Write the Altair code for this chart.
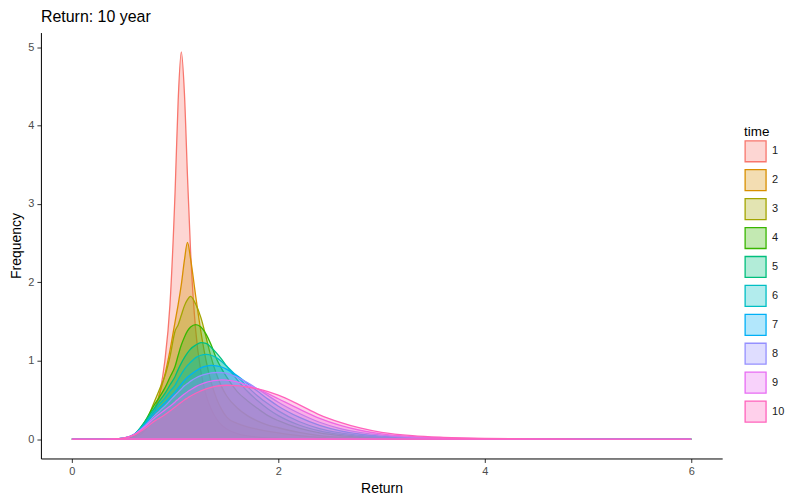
import altair as alt
import pandas as pd

x_grid = [0, 0.3, 0.4, 0.5, 0.6, 0.7, 0.8, 0.85, 0.9, 0.95, 1.0, 1.03, 1.06, 1.09, 1.12, 1.15,
          1.2, 1.25, 1.3, 1.35, 1.4, 1.45, 1.5, 1.6, 1.7, 1.8, 1.9, 2.0, 2.2, 2.4, 2.6, 2.8, 3.0,
          3.3, 3.6, 4.0, 4.5, 5.0, 6.0]

c1 = [0, 0, 0, 0.003, 0.02, 0.10, 0.33, 0.58, 0.99, 1.71, 3.16, 4.33, 4.94, 4.42, 3.35, 2.39,
      1.38, 0.86, 0.56, 0.38, 0.26, 0.18, 0.13, 0.07, 0.04, 0.025, 0.015, 0.01, 0.004, 0.001, 0, 0, 0,
      0, 0, 0, 0, 0, 0]
c2 = [0, 0, 0.001, 0.004, 0.03, 0.13, 0.38, 0.58, 0.82, 1.13, 1.50, 1.72, 1.97, 2.28, 2.51, 2.30,
      1.82, 1.37, 1.0, 0.72, 0.52, 0.38, 0.28, 0.20, 0.155, 0.125, 0.10, 0.08, 0.045, 0.022, 0.011, 0.005, 0.002,
      0, 0, 0, 0, 0, 0]
c3 = [0, 0, 0.001, 0.005, 0.04, 0.18, 0.48, 0.64, 0.80, 1.05, 1.38, 1.46, 1.58, 1.70, 1.78, 1.82,
      1.72, 1.55, 1.30, 1.04, 0.83, 0.67, 0.55, 0.40, 0.30, 0.23, 0.18, 0.145, 0.085, 0.045, 0.024, 0.012, 0.006,
      0.002, 0, 0, 0, 0, 0]
c4 = [0, 0, 0.001, 0.008, 0.05, 0.21, 0.44, 0.54, 0.65, 0.79, 0.93, 1.07, 1.20, 1.30, 1.38, 1.43,
      1.46, 1.43, 1.34, 1.20, 1.03, 0.90, 0.79, 0.61, 0.49, 0.39, 0.30, 0.235, 0.14, 0.08, 0.045, 0.024, 0.012,
      0.005, 0.002, 0, 0, 0, 0]
c5 = [0, 0, 0.002, 0.01, 0.056, 0.21, 0.40, 0.49, 0.58, 0.69, 0.80, 0.89, 0.97, 1.04, 1.10, 1.15,
      1.20, 1.23, 1.22, 1.17, 1.10, 1.02, 0.93, 0.76, 0.61, 0.49, 0.385, 0.30, 0.18, 0.105, 0.06, 0.033, 0.018,
      0.007, 0.003, 0.001, 0, 0, 0]
c6 = [0, 0, 0.002, 0.011, 0.058, 0.19, 0.37, 0.45, 0.52, 0.61, 0.69, 0.76, 0.83, 0.89, 0.94, 0.98,
      1.04, 1.07, 1.08, 1.07, 1.04, 0.99, 0.93, 0.80, 0.67, 0.55, 0.45, 0.36, 0.225, 0.135, 0.08, 0.046, 0.026,
      0.011, 0.005, 0.002, 0, 0, 0]
c7 = [0, 0, 0.002, 0.012, 0.058, 0.175, 0.335, 0.40, 0.46, 0.53, 0.60, 0.65, 0.70, 0.75, 0.79, 0.82,
      0.87, 0.91, 0.93, 0.94, 0.935, 0.92, 0.89, 0.81, 0.71, 0.61, 0.51, 0.42, 0.28, 0.175, 0.105, 0.062, 0.037,
      0.016, 0.007, 0.003, 0.001, 0, 0]
c8 = [0, 0, 0.002, 0.012, 0.057, 0.16, 0.30, 0.36, 0.42, 0.49, 0.56, 0.60, 0.64, 0.68, 0.71, 0.74,
      0.78, 0.81, 0.83, 0.845, 0.85, 0.848, 0.84, 0.79, 0.72, 0.64, 0.555, 0.47, 0.33, 0.215, 0.135, 0.082, 0.05,
      0.022, 0.01, 0.004, 0.001, 0, 0]
c9 = [0, 0, 0.002, 0.012, 0.055, 0.15, 0.27, 0.32, 0.37, 0.42, 0.475, 0.51, 0.545, 0.575, 0.605, 0.63,
      0.67, 0.70, 0.725, 0.74, 0.75, 0.755, 0.753, 0.73, 0.69, 0.64, 0.58, 0.515, 0.385, 0.265, 0.175, 0.11, 0.067,
      0.032, 0.015, 0.006, 0.002, 0.0005, 0]
c10 = [0, 0, 0.002, 0.012, 0.05, 0.13, 0.23, 0.27, 0.31, 0.36, 0.41, 0.44, 0.47, 0.50, 0.525, 0.55,
       0.585, 0.615, 0.64, 0.66, 0.675, 0.684, 0.687, 0.682, 0.665, 0.64, 0.605, 0.56, 0.44, 0.31, 0.215, 0.14, 0.087,
       0.044, 0.023, 0.009, 0.003, 0.001, 0]

times = list(range(1, 11))
series = [c1, c2, c3, c4, c5, c6, c7, c8, c9, c10]
line_colors = ["#F8766D", "#D89000", "#A3A500", "#39B600", "#00BF7D",
               "#00BFC4", "#00B0F6", "#9590FF", "#E76BF3", "#FF62BC"]
fill_colors = ["rgba(248,118,109,0.3)", "rgba(216,144,0,0.3)", "rgba(163,165,0,0.3)",
               "rgba(57,182,0,0.3)", "rgba(0,191,125,0.3)", "rgba(0,191,196,0.3)",
               "rgba(0,176,246,0.3)", "rgba(149,144,255,0.3)", "rgba(231,107,243,0.3)",
               "rgba(255,98,188,0.3)"]

rows = []
for t, ys in zip(times, series):
    for x, y in zip(x_grid, ys):
        rows.append({"Return": x, "Frequency": y, "time": t})
df = pd.DataFrame(rows)

legend = alt.Legend(
    title="time", orient="none", legendX=705, legendY=93,
    symbolType="square", symbolSize=441, symbolStrokeWidth=1.3,
    rowPadding=2, labelOffset=5, labelFontSize=11, labelColor="#1a1a1a",
    titleFontSize=13.5, titleFontWeight="normal", titleColor="black",
    titlePadding=1, padding=0, labelFont="Liberation Sans", titleFont="Liberation Sans",
)

chart = alt.Chart(df).mark_area(
    interpolate="monotone", strokeWidth=1.3, fillOpacity=1, strokeOpacity=1
).encode(
    x=alt.X("Return:Q", title="Return",
            scale=alt.Scale(domain=[-0.3, 6.3], nice=False, zero=False),
            axis=alt.Axis(values=[0, 2, 4, 6], format="d", titlePadding=5)),
    y=alt.Y("Frequency:Q", title="Frequency", stack=None,
            scale=alt.Scale(domain=[-0.247, 5.187], nice=False, zero=False),
            axis=alt.Axis(values=[0, 1, 2, 3, 4, 5], format="d", titlePadding=4)),
    fill=alt.Fill("time:O", scale=alt.Scale(domain=times, range=fill_colors), legend=legend),
    stroke=alt.Stroke("time:O", scale=alt.Scale(domain=times, range=line_colors), legend=legend),
).properties(
    width=683, height=427,
    title=alt.Title("Return: 10 year", anchor="start", frame="group", fontSize=16,
                    fontWeight="normal", font="Liberation Sans", color="black", offset=8),
    autosize=alt.AutoSizeParams(type="none"),
    padding={"left": 33, "top": 24, "right": 70, "bottom": 40},
).configure_view(stroke=None).configure_axis(
    grid=False, domainColor="black", domainWidth=1, tickColor="#333333", tickSize=4,
    tickWidth=1, labelColor="#4D4D4D", labelFontSize=11, labelFont="Liberation Sans",
    titleFont="Liberation Sans", titleFontSize=14, titleFontWeight="normal",
    titleColor="black", labelPadding=3,
)

chart.save("out.html", embed_options={"renderer": "svg", "actions": False})
